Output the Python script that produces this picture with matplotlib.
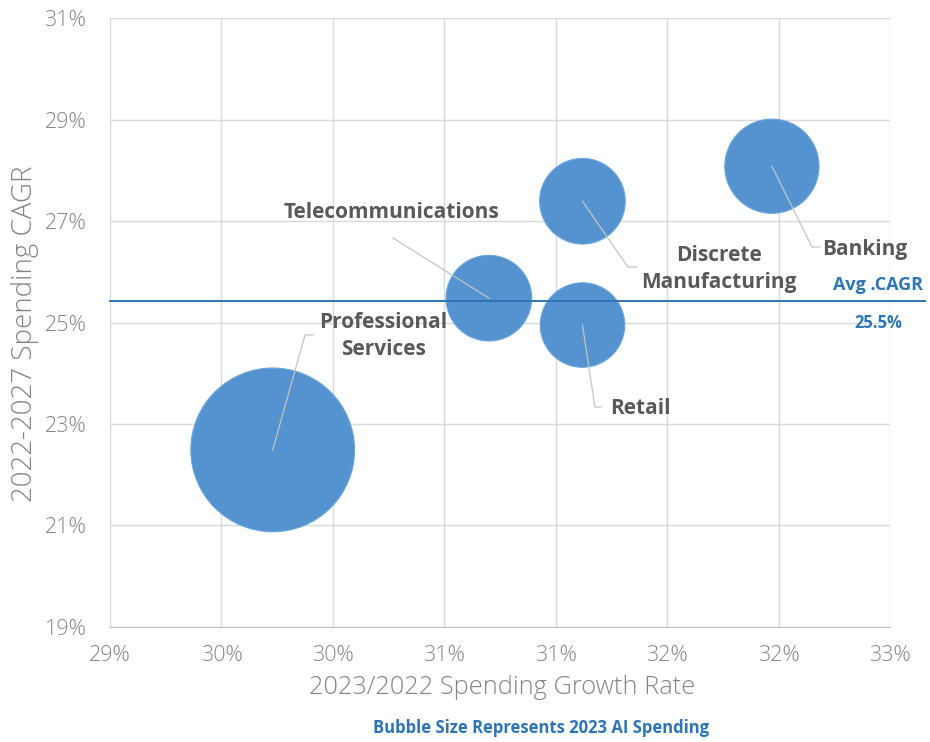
import matplotlib
matplotlib.use('Agg')
import matplotlib.pyplot as plt
import matplotlib.transforms as mtransforms
from matplotlib.ticker import FuncFormatter

# data
industries = ['Professional\nServices', 'Telecommunications', 'Retail',
              'Discrete\nManufacturing', 'Banking']
growth_2023 = [29.73, 30.70, 31.12, 31.12, 31.97]   # 2023/2022 growth rate, %
cagr_22_27 = [22.49, 25.48, 24.95, 27.39, 28.08]    # 2022-2027 CAGR, %
ai_spending = [13.9, 3.8, 3.7, 3.8, 4.6]            # relative 2023 AI spending
avg_cagr = 25.42
avg_label = '25.5%'

x_ticks = [29.0, 29.5, 30.0, 30.5, 31.0, 31.5, 32.0, 32.5]
y_ticks = [19, 21, 23, 25, 27, 29, 31]

# label placement (text centre, leader elbow, leader end)
label_pos = [(30.225, 24.734), (30.261, 27.177), (31.378, 23.315),
             (31.733, 26.054), (32.388, 26.429)]
leader_pts = [[(29.911, 24.754), (29.875, 24.754)],
              [(30.270, 26.665)],
              [(31.203, 23.335), (31.176, 23.335)],
              [(31.365, 26.094), (31.324, 26.094)],
              [(32.186, 26.488), (32.150, 26.488)]]

bubble_color = '#5593d0'
line_color = '#2e75b6'
label_color = '#595959'
tick_color = '#858585'

plt.rcParams['font.family'] = ['Open Sans', 'DejaVu Sans']

fig = plt.figure(figsize=(9.3, 7.42), dpi=100)
ax = fig.add_axes([0.1183, 0.155, 0.8387, 0.8207])

ax.set_xlim(29.0, 32.5)
ax.set_ylim(19, 31)
ax.set_xticks(x_ticks)
ax.set_yticks(y_ticks)
# Excel-style rounding of the half-percent ticks
ax.set_xticklabels([f'{int(v + 0.5)}%' for v in x_ticks])
ax.yaxis.set_major_formatter(FuncFormatter(lambda v, p: f'{v:.0f}%'))
ax.tick_params(length=0, labelsize=15.5, colors=tick_color)
ax.tick_params(axis='x', pad=13)
ax.tick_params(axis='y', pad=17)
for lbl in ax.get_xticklabels() + ax.get_yticklabels():
    lbl.set_fontweight('light')
ax.grid(True, color='#d9d9d9', linewidth=1)
ax.set_axisbelow(True)
for side in ['top', 'right', 'left']:
    ax.spines[side].set_visible(False)
ax.spines['bottom'].set_color('#bfbfbf')

# bubbles
sizes = [v * 1000 for v in ai_spending]
ax.scatter(growth_2023, cagr_22_27, s=sizes, color=bubble_color,
           edgecolors='#6aa5dc', linewidths=0.8, zorder=3)

# leader lines and labels
for i, name in enumerate(industries):
    pts = leader_pts[i] + [(growth_2023[i], cagr_22_27[i])]
    ax.plot([p[0] for p in pts], [p[1] for p in pts], color='#c4c4c4',
            linewidth=0.9, zorder=4)
    ax.text(label_pos[i][0], label_pos[i][1], name, ha='center', va='center',
            fontsize=15, fontweight='bold', color=label_color,
            linespacing=1.32, zorder=5)

# average CAGR line, running past the plot area
trans = mtransforms.blended_transform_factory(ax.transAxes, ax.transData)
ax.plot([0, 1.045], [avg_cagr, avg_cagr], color=line_color, linewidth=1.4,
        transform=trans, clip_on=False, zorder=4)
ax.text(32.446, 25.739, 'Avg .CAGR', ha='center', va='center', fontsize=13,
        fontweight='bold', color=line_color)
ax.text(32.446, 24.99, avg_label, ha='center', va='center', fontsize=12,
        fontweight='bold', color=line_color)

# axis titles
fig.text(502 / 930, 1 - 688 / 742, '2023/2022 Spending Growth Rate',
         ha='center', va='center', fontsize=18.3, color=tick_color,
         fontweight='light')
fig.text(25 / 930, 1 - 334 / 742, '2022-2027 Spending CAGR', ha='center',
         va='center', rotation=90, fontsize=20, color=tick_color,
         fontweight='light')
fig.text(541 / 930, 1 - 728 / 742, 'Bubble Size Represents 2023 AI Spending',
         ha='center', va='center', fontsize=12, fontweight='bold',
         color=line_color)

plt.savefig('out.png', dpi=100)
